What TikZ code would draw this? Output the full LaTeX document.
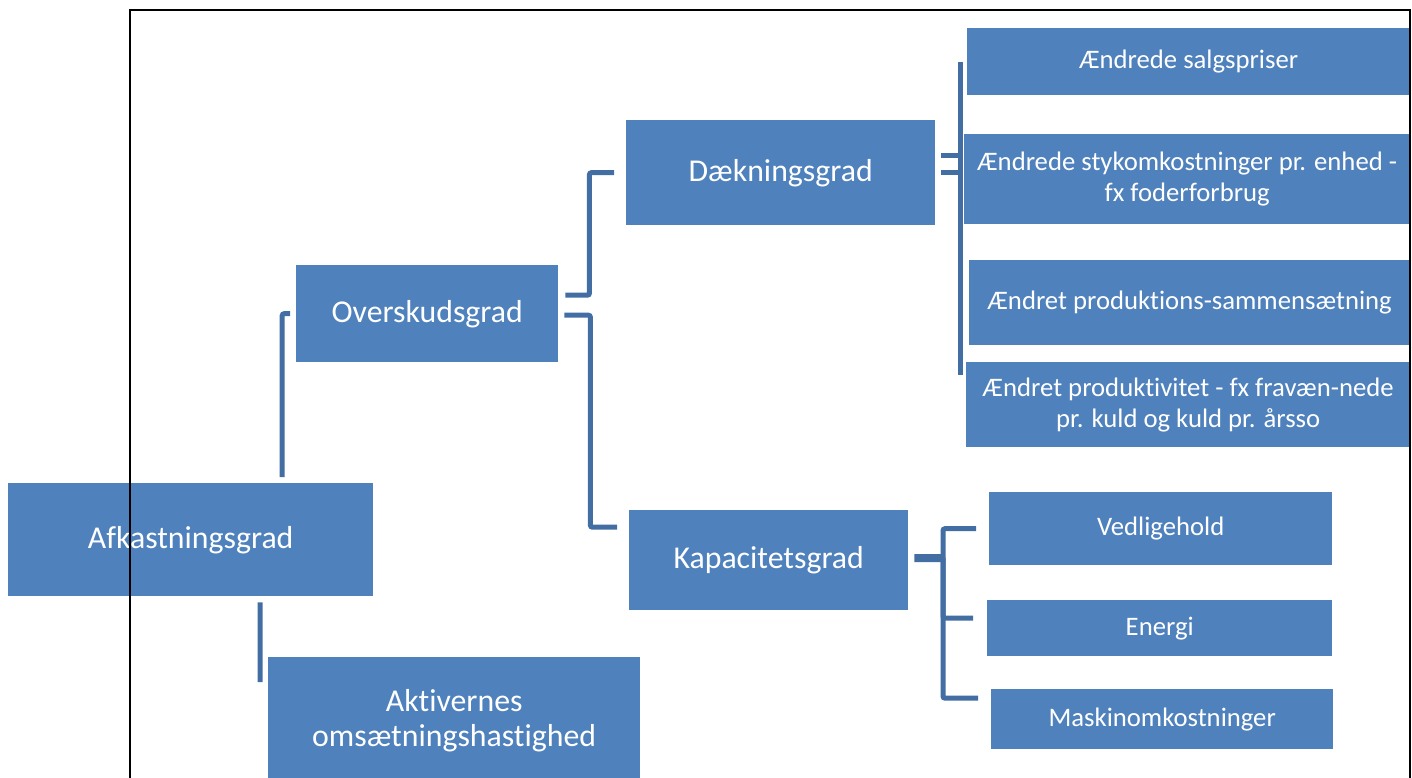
\documentclass[tikz,border=0pt]{standalone}
\usepackage{fontspec}
\setmainfont{Carlito}[Ligatures=NoCommon]
\usetikzlibrary{positioning}
\definecolor{kboxblue}{RGB}{79,129,189}
\definecolor{klineblue}{RGB}{66,110,164}

\begin{document}
\begin{tikzpicture}[x=1pt, y=-1pt,
        box/.style={fill=kboxblue, text=white, inner sep=0pt, anchor=north west, align=center},
        bigbox/.style={box, font=\fontsize{31.8}{35}\selectfont},
        smallbox/.style={box, font=\fontsize{26.7}{31}\selectfont},
        conn/.style={draw=klineblue, line width=5pt, rounded corners=2pt}]
        \useasboundingbox (0,0) rectangle (1412,778);

        % level one and two
        \node[bigbox, minimum width=365pt, minimum height=113pt] (afk) at (8,483) {Afkastningsgrad};
        \node[bigbox, minimum width=262pt, minimum height=97pt] (osk) at (296,265) {Overskudsgrad};
        \node[bigbox, minimum width=372pt, minimum height=126pt] (akt) at (268,657) {Aktivernes\\omsætningshastighed};
        \node[bigbox, minimum width=309pt, minimum height=105pt] (dk) at (626,120) {Dækningsgrad};
        \node[bigbox, minimum width=279pt, minimum height=100pt] (kap) at (629,510) {Kapacitetsgrad};

        % causes for daekningsgrad
        \node[smallbox, minimum width=443pt, minimum height=67pt] (salg) at (967,28) {Ændrede salgspriser};
        \node[smallbox, minimum width=446pt, minimum height=90pt] (styk) at (964,134) {Ændrede stykomkostninger pr. enhed -\\fx foderforbrug};
        \node[smallbox, minimum width=441pt, minimum height=85pt] (prod) at (969,260) {Ændret produktions-sammensætning};
        \node[smallbox, minimum width=444pt, minimum height=85pt] (pdkt) at (966,362) {Ændret produktivitet - fx fravæn-nede\\pr. kuld og kuld pr. årsso};

        % causes for kapacitetsgrad
        \node[smallbox, minimum width=343pt, minimum height=73pt] (ved) at (989,492) {Vedligehold};
        \node[smallbox, minimum width=345pt, minimum height=56pt] (en) at (987,600) {Energi};
        \node[smallbox, minimum width=342pt, minimum height=60pt] (mask) at (991,689) {Maskinomkostninger};

        % connectors
        \draw[conn] ([xshift=91.5pt,yshift=6pt]afk.north) |- ([xshift=-6pt]osk.west);
        \draw[conn] ([xshift=69.5pt,yshift=-6pt]afk.south) -- ([xshift=-8pt,yshift=38pt]akt.west);
        \draw[conn] ([xshift=7pt,yshift=18.5pt]osk.east) -- ++(24pt,0) |- ([xshift=-12pt]dk.west);
        \draw[conn] ([xshift=6pt,yshift=-1.5pt]osk.east) -- ++(26pt,0) |- ([xshift=-12pt,yshift=33pt]kap.west);

        %% bracket right of daekningsgrad
        \draw[conn] ([xshift=6pt,yshift=17.5pt]dk.east) -- ++(19pt,0);
        \draw[conn] ([xshift=6pt]dk.east) -- ++(19pt,0);
        \draw[conn] ([xshift=-7pt]salg.west) -- ([xshift=-6pt,yshift=29.5pt]pdkt.west);

        %% bracket right of kapacitetsgrad
        \coordinate (kbar) at (943,558);
        \draw[conn, line width=8pt] ([xshift=6pt,yshift=2pt]kap.east) -- ([xshift=2pt]kbar);
        \draw[conn] ([xshift=-13pt]ved.west) -| (kbar);
        \draw[conn] ([xshift=-14pt,yshift=10pt]en.west) -| (kbar);
        \draw[conn] ([xshift=-13pt,yshift=21pt]mask.west) -| (kbar);

        % frame
        \draw[line width=2pt] (130,778) -- (130,10) -- (1410,10) -- (1410,778);
\end{tikzpicture}
\end{document}
